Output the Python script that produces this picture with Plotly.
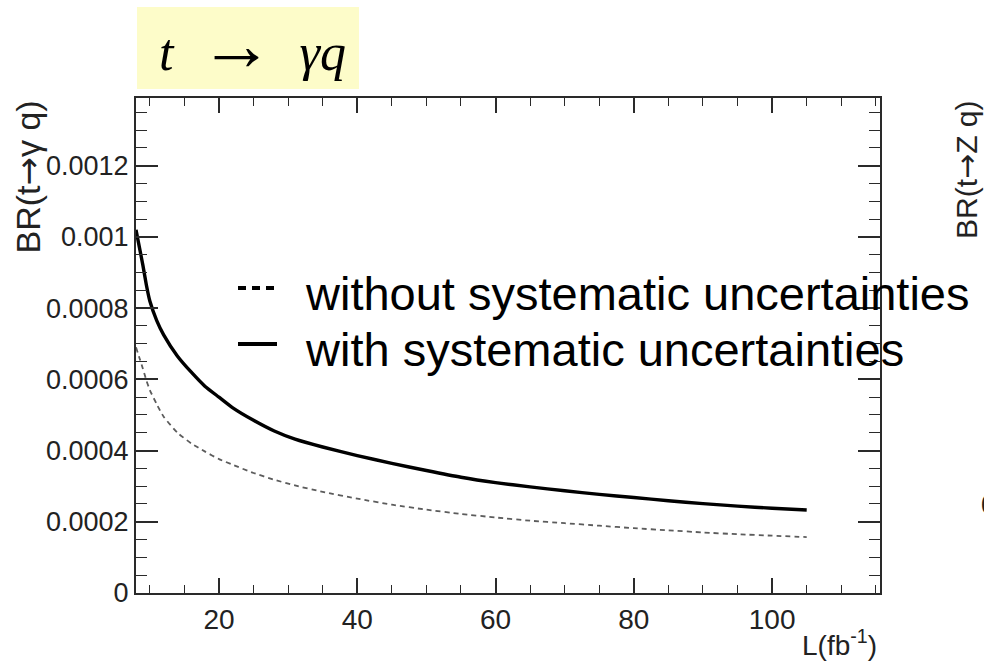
import plotly.graph_objects as go

# Integrated luminosity L (fb^-1)
lumi = [8, 8.5, 9, 9.5, 10, 11, 12, 14, 16, 18, 20, 22, 25, 28, 31, 35, 40, 45, 50,
        55, 60, 65, 70, 75, 80, 85, 90, 95, 100, 105]

# BR(t -> gamma q) limit with systematic uncertainties (solid)
br_with = [0.00102, 0.00097, 0.00092, 0.000865, 0.00082, 0.000765, 0.000725, 0.000665,
           0.00062, 0.00058, 0.00055, 0.00052, 0.000485, 0.000455, 0.000432, 0.00041,
           0.000386, 0.000364, 0.000344, 0.000325, 0.00031, 0.000298, 0.000287,
           0.000277, 0.000268, 0.000259, 0.000251, 0.000244, 0.000238, 0.000233]

# BR(t -> gamma q) limit without systematic uncertainties (dashed)
br_without = [0.00069, 0.00066, 0.00063, 0.000597, 0.00057, 0.00053, 0.000495, 0.00045,
              0.00042, 0.000397, 0.000376, 0.00036, 0.000337, 0.000318, 0.000302,
              0.000284, 0.000265, 0.000248, 0.000234, 0.000222, 0.000212, 0.000203,
              0.000196, 0.000189, 0.000182, 0.000176, 0.00017, 0.000165, 0.000161, 0.000157]

x_tickvals = [20, 40, 60, 80, 100]
x_ticktext = ["20", "40", "60", "80", "100"]
y_tickvals = [0, 0.0002, 0.0004, 0.0006, 0.0008, 0.001, 0.0012]
y_ticktext = ["0", "0.0002", "0.0004", "0.0006", "0.0008", "0.001", "0.0012"]

legend_labels = ["without systematic uncertainties", "with systematic uncertainties"]

W, H = 984, 663
L_PX, R_PX, T_PX, B_PX = 136, 880, 98, 593


def px(xp):
    return (xp - L_PX) / (R_PX - L_PX)


def py(yp):
    return (B_PX - yp) / (B_PX - T_PX)


SANS = "Liberation Sans, DejaVu Sans, Arial, sans-serif"
AX = "#2a2a2a"
ARROW = "<span style='font-family:DejaVu Sans'>\u2192</span>"

fig = go.Figure()
fig.add_trace(go.Scatter(
    x=lumi, y=br_without, mode="lines", name=legend_labels[0],
    line=dict(color="#5c5c5c", width=1.8, dash="5px,4px", shape="spline", smoothing=0.5),
    showlegend=False))
fig.add_trace(go.Scatter(
    x=lumi, y=br_with, mode="lines", name=legend_labels[1],
    line=dict(color="black", width=3.4, shape="spline", smoothing=0.5),
    showlegend=False))

fig.update_layout(
    width=W, height=H,
    margin=dict(l=L_PX, r=W - R_PX, t=T_PX, b=H - B_PX),
    paper_bgcolor="white", plot_bgcolor="white",
    font=dict(family=SANS, color="#222"),
    xaxis=dict(
        range=[8, 115.6], tickmode="array", tickvals=x_tickvals, ticktext=x_ticktext,
        ticks="inside", ticklen=15, tickwidth=1.5, tickcolor=AX,
        showline=True, linewidth=2, linecolor=AX, mirror="allticks",
        minor=dict(ticks="inside", ticklen=8, tickwidth=1.3, tickcolor=AX,
                   tickmode="linear", tick0=0, dtick=5),
        showgrid=False, zeroline=False, tickfont=dict(size=28, color="#222")),
    yaxis=dict(
        range=[0, 0.00139], tickmode="array", tickvals=y_tickvals, ticktext=y_ticktext,
        ticks="inside", ticklen=22, tickwidth=1.5, tickcolor=AX,
        showline=True, linewidth=2, linecolor=AX, mirror="allticks",
        minor=dict(ticks="inside", ticklen=11, tickwidth=1.3, tickcolor=AX,
                   tickmode="linear", tick0=0, dtick=0.00005),
        showgrid=False, zeroline=False, tickfont=dict(size=27, color="#222")),
)

shapes = [
    # yellow title box
    dict(type="rect", xref="paper", yref="paper", x0=px(137), x1=px(359),
         y0=py(89), y1=py(7), fillcolor="#fdfcc9", line=dict(width=0), layer="below"),
    # legend symbols
    dict(type="line", xref="paper", yref="paper", x0=px(238), x1=px(277),
         y0=py(288), y1=py(288), line=dict(color="black", width=4, dash="8px,6px")),
    dict(type="line", xref="paper", yref="paper", x0=px(238), x1=px(277),
         y0=py(344), y1=py(344), line=dict(color="black", width=4)),
]
fig.update_layout(shapes=shapes)

annotations = [
    dict(text="<i>t</i>\u2002<span style='font-size:74px'>\u2192</span>\u2002<i>\u03b3q</i>",
         x=px(252), y=py(45), xanchor="center", yanchor="middle",
         font=dict(family="Liberation Serif, DejaVu Serif, serif", size=52, color="black")),
    dict(text="BR(t" + ARROW + "\u03b3 q)", x=px(27), y=py(99), textangle=-90,
         xanchor="center", yanchor="top", font=dict(size=34, color="#222")),
    dict(text="BR(t" + ARROW + "Z q)", x=px(966), y=py(99), textangle=-90,
         xanchor="center", yanchor="top", font=dict(size=30, color="#222")),
    dict(text="0.0", x=px(979), y=py(505), xanchor="left", yanchor="middle",
         font=dict(size=27, color="#222")),
    dict(text="L(fb<sup>-1</sup>)", x=px(879), y=py(643), xanchor="right",
         yanchor="middle", font=dict(size=28, color="#222")),
    dict(text=legend_labels[0], x=px(303), y=py(293), xanchor="left", yanchor="middle",
         font=dict(size=47, color="black")),
    dict(text=legend_labels[1], x=px(303), y=py(349), xanchor="left", yanchor="middle",
         font=dict(size=47, color="black")),
]
for a in annotations:
    a.setdefault("xref", "paper")
    a.setdefault("yref", "paper")
    a["showarrow"] = False
fig.update_layout(annotations=annotations)

fig.write_html("out.html", config={"displayModeBar": False},
               post_script="document.body.style.margin='0';")
